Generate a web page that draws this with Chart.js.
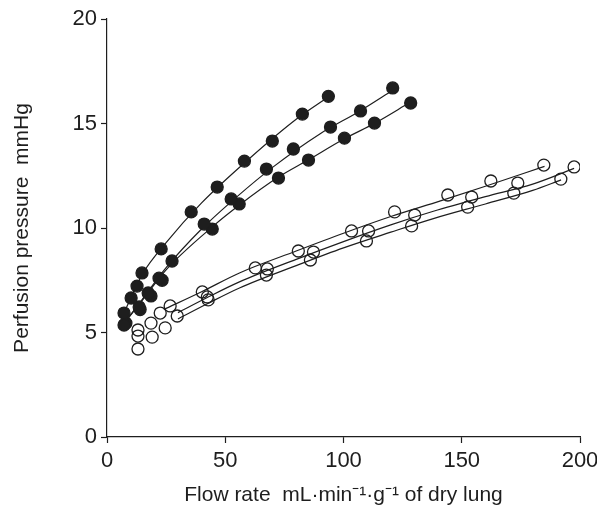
<!DOCTYPE html>
<html>
<head>
<meta charset="utf-8">
<script src="https://cdn.jsdelivr.net/npm/chart.js@4/dist/chart.umd.min.js"></script>
<style>
	html, body { margin: 0; padding: 0; background: #fff; }
	#wrap { width: 597px; height: 510px; position: relative; }
</style>
</head>
<body>
<div id="wrap"><canvas id="chart-perfusion"></canvas></div>
<script>
// Measured points, [flow, pressure]
const filledA = [[7.2, 5.93], [10.2, 6.65], [12.7, 7.22], [14.8, 7.85], [22.9, 9.0], [35.6, 10.77], [46.6, 11.96], [58.1, 13.2], [69.9, 14.16], [82.6, 15.45], [93.6, 16.3]];
const filledB = [[7.2, 5.36], [13.6, 6.22], [17.4, 6.89], [22.0, 7.6], [27.5, 8.42], [41.1, 10.19], [52.5, 11.39], [67.4, 12.82], [78.8, 13.78], [94.5, 14.83], [107.2, 15.6], [120.8, 16.7]];
const filledC = [[8.0, 5.45], [14.0, 6.1], [18.6, 6.75], [23.3, 7.5], [44.5, 9.95], [55.9, 11.15], [72.5, 12.39], [85.2, 13.25], [100.4, 14.3], [113.1, 15.02], [128.4, 15.98]];
const openA = [[13.1, 5.12], [22.5, 5.93], [26.7, 6.27], [40.3, 6.94], [62.7, 8.09], [80.9, 8.9], [103.4, 9.86], [121.6, 10.77], [144.1, 11.58], [162.3, 12.25], [184.7, 13.01]];
const openB = [[13.1, 4.83], [18.6, 5.45], [29.7, 5.79], [42.4, 6.7], [67.8, 8.04], [87.3, 8.85], [110.6, 9.86], [130.1, 10.62], [154.2, 11.48], [173.7, 12.15], [197.5, 12.92]];
const openC = [[13.1, 4.21], [19.1, 4.78], [24.6, 5.22], [42.8, 6.56], [67.4, 7.75], [86.0, 8.47], [109.7, 9.38], [128.8, 10.1], [152.5, 11.0], [172.0, 11.67], [191.9, 12.34]];

// Fitted curves
const fitFilledA = [[7, 5.9], [15, 7.8], [25, 9.3], [40, 11.2], [60, 13.3], [80, 15.2], [94, 16.3]];
const fitFilledB = [[7, 5.4], [15, 6.6], [25, 8.1], [40, 9.95], [55, 11.5], [70, 12.9], [90, 14.5], [107, 15.6], [121, 16.6]];
const fitFilledC = [[7, 5.4], [15, 6.55], [25, 8.0], [45, 10.1], [56, 11.1], [72, 12.4], [85, 13.25], [100, 14.25], [113, 15.0], [128, 16.0]];
const fitOpenA = [[24, 6.1], [40, 6.95], [56, 7.85], [80, 8.9], [100, 9.75], [120, 10.55], [141, 11.3], [160, 12.0], [185, 12.95]];
const fitOpenB = [[30, 5.95], [42, 6.65], [56, 7.42], [80, 8.5], [100, 9.35], [120, 10.15], [138, 10.8], [160, 11.5], [180, 12.1], [197.5, 12.85]];
const fitOpenC = [[30, 5.65], [42, 6.35], [56, 7.13], [80, 8.2], [100, 9.05], [120, 9.8], [138, 10.45], [160, 11.15], [180, 11.8], [192, 12.3]];

const xTicks = [0, 50, 100, 150, 200];
const yTicks = [0, 5, 10, 15, 20];

const INK = "#1e1e1e";
const TICK_FONT = { family: "'Liberation Sans', Arial, sans-serif", size: 22 };
const TITLE_FONT = { family: "'Liberation Sans', Arial, sans-serif", size: 21 };

const toXY = (pairs) => pairs.map(([x, y]) => ({ x, y }));

const fitLine = (pairs) => ({
	data: toXY(pairs),
	showLine: true,
	borderColor: INK,
	borderWidth: 1.2,
	tension: 0.4,
	cubicInterpolationMode: "monotone",
	pointRadius: 0,
	order: 2,
});

const points = (pairs, filled) => ({
	data: toXY(pairs),
	showLine: false,
	pointRadius: 6,
	pointBorderWidth: 1.3,
	pointBorderColor: INK,
	pointBackgroundColor: filled ? INK : "rgba(0,0,0,0)",
	order: 1,
});

const CHART_DATA = {
	datasets: [
		fitLine(fitFilledA), fitLine(fitFilledB), fitLine(fitFilledC),
		fitLine(fitOpenA), fitLine(fitOpenB), fitLine(fitOpenC),
		points(filledA, true), points(filledB, true), points(filledC, true),
		points(openA, false), points(openB, false), points(openC, false),
	],
};

const axisGrid = {
	display: true,
	drawOnChartArea: false,
	drawTicks: true,
	tickLength: 6,
	tickWidth: 1.2,
	tickColor: INK,
};

const CHART_CONFIG = {
	type: "scatter",
	data: CHART_DATA,
	options: {
		responsive: true,
		maintainAspectRatio: false,
		animation: false,
		layout: { padding: { top: 19, right: 0, left: 0, bottom: 0 } },
		scales: {
			x: {
				type: "linear",
				min: 0,
				max: 200,
				border: { display: true, color: INK, width: 1.2 },
				grid: axisGrid,
				afterBuildTicks: (scale) => { scale.ticks = xTicks.map((v) => ({ value: v })); },
				afterFit: (scale) => {
					scale.height = 73;
					scale.paddingRight = 17;
				},
				ticks: { color: INK, font: TICK_FONT, padding: 5, maxRotation: 0 },
				title: {
					display: true,
					text: "Flow rate  mL·min⁻¹·g⁻¹ of dry lung",
					color: INK,
					font: TITLE_FONT,
					padding: { top: 0, bottom: 2 },
				},
			},
			y: {
				type: "linear",
				min: 0,
				max: 20,
				border: { display: true, color: INK, width: 1.2 },
				grid: axisGrid,
				afterBuildTicks: (scale) => { scale.ticks = yTicks.map((v) => ({ value: v })); },
				afterFit: (scale) => {
					scale.width = 107;
					scale.paddingTop = 0;
				},
				ticks: { color: INK, font: TICK_FONT, padding: 4 },
				title: {
					display: true,
					text: "Perfusion pressure  mmHg",
					color: INK,
					font: TITLE_FONT,
					padding: { top: 10, bottom: 0 },
				},
			},
		},
		plugins: {
			legend: { display: false },
			tooltip: { enabled: false },
		},
	},
};

new Chart(document.getElementById("chart-perfusion"), CHART_CONFIG);
</script>
</body>
</html>
